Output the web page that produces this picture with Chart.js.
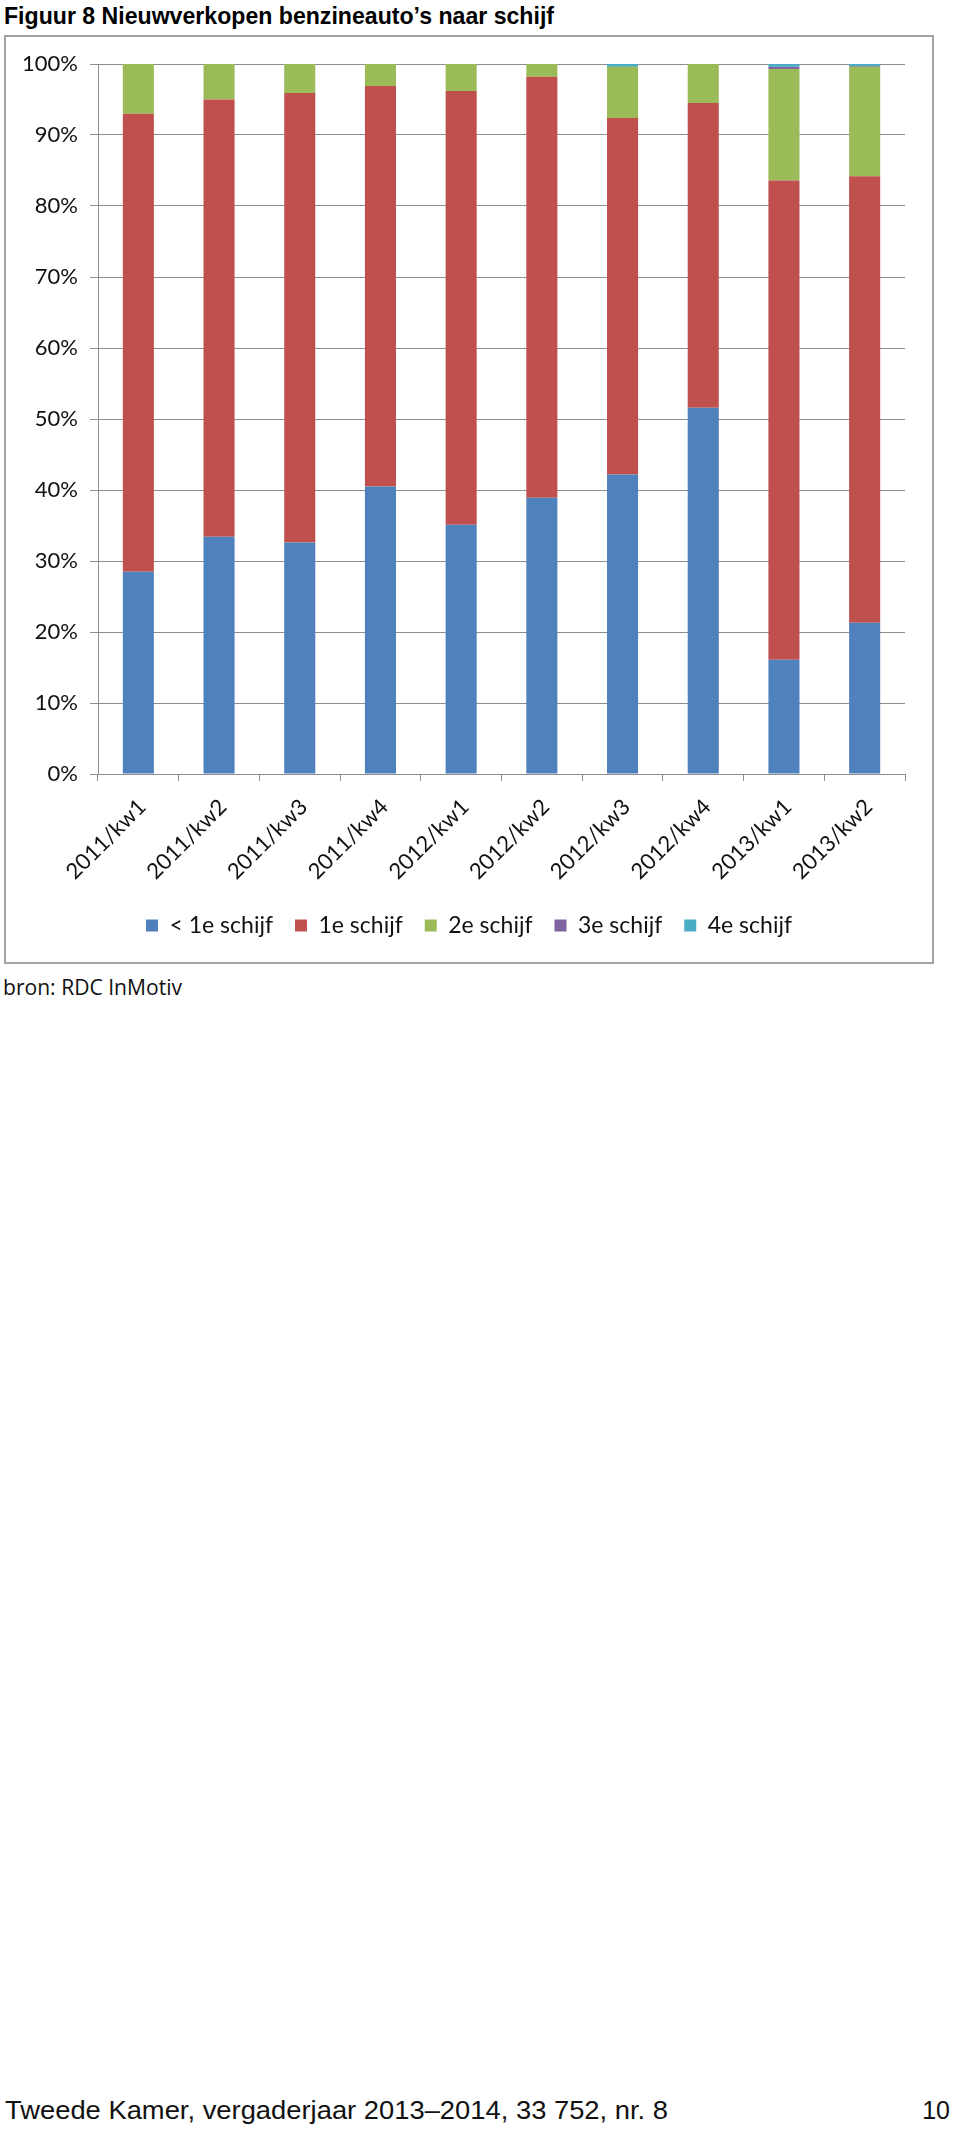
<!DOCTYPE html>
<html>
<head>
<meta charset="utf-8">
<script src="https://cdn.jsdelivr.net/npm/chart.js@4.4.1/dist/chart.umd.min.js"></script>
<style>
  html, body { margin: 0; padding: 0; background: #fff; }
  body { width: 960px; height: 2130px; position: relative; overflow: hidden; }
  #title {
    position: absolute; left: 4px; top: 2px;
    font-family: "Liberation Sans", Arial, sans-serif; font-weight: bold;
    font-size: 24px; color: #000; white-space: nowrap;
    transform-origin: 0 0;
  }
  #box {
    position: absolute; left: 4px; top: 35px; width: 930px; height: 929px;
    border: 2px solid #a3a3a3; box-sizing: border-box;
  }
  #box canvas { display: block; }
  #source {
    position: absolute; left: 3px; top: 973px;
    font-family: "Open Sans", "Liberation Sans", sans-serif; font-size: 21px; color: #111;
    white-space: nowrap; transform-origin: 0 0;
  }
  #footer {
    position: absolute; left: 5px; top: 2096px;
    font-family: "Liberation Sans", Arial, sans-serif; font-size: 25px; color: #111;
    white-space: nowrap; transform-origin: 0 0;
  }
  #page {
    position: absolute; right: 10px; top: 2096px;
    font-family: "Liberation Sans", Arial, sans-serif; font-size: 25px; color: #111;
  }
</style>
</head>
<body>
<div id="title">Figuur 8 Nieuwverkopen benzineauto’s naar schijf</div>
<div id="box"><canvas id="chartCanvas" width="926" height="925"></canvas></div>
<div id="source">bron: RDC InMotiv</div>
<div id="footer">Tweede Kamer, vergaderjaar 2013–2014, 33 752, nr. 8</div>
<div id="page">10</div>
<script>
// --- data (share of sales, %) ---
const quarters = ["2011/kw1", "2011/kw2", "2011/kw3", "2011/kw4", "2012/kw1",
                  "2012/kw2", "2012/kw3", "2012/kw4", "2013/kw1", "2013/kw2"];
const belowFirst = [28.5, 33.4, 32.6, 40.5, 35.1, 38.9, 42.2, 51.6, 16.1, 21.3];
const first      = [64.5, 61.6, 63.3, 56.4, 61.1, 59.3, 50.2, 42.9, 67.5, 62.9];
const second     = [7.0, 5.0, 4.1, 3.1, 3.8, 1.8, 7.2, 5.5, 15.7, 15.4];
const third      = [0, 0, 0, 0, 0, 0, 0, 0, 0.3, 0.1];
const fourth     = [0, 0, 0, 0, 0, 0, 0.4, 0, 0.4, 0.3];
const yTicks = [0, 10, 20, 30, 40, 50, 60, 70, 80, 90, 100];

const seriesNames = ["< 1e schijf", "1e schijf", "2e schijf", "3e schijf", "4e schijf"];
const seriesColors = ["#4f81bd", "#c0504d", "#9bbb59", "#8064a2", "#4bacc6"];

// squeeze html text to the width it has in the figure
function fitWidth(id, target) {
  const el = document.getElementById(id);
  const w = el.getBoundingClientRect().width;
  el.style.transform = `scaleX(${target / w})`;
}
fitWidth("title", 550);
fitWidth("footer", 663);
fitWidth("source", 179);

const canvas = document.getElementById("chartCanvas");
const gridColor = "#8e8e8e";

const datasets = [belowFirst, first, second, third, fourth].map((vals, i) => ({
  label: seriesNames[i],
  data: vals,
  backgroundColor: seriesColors[i],
  borderWidth: 0,
  barPercentage: 0.385,
  categoryPercentage: 1
}));

new Chart(canvas, {
  type: "bar",
  data: { labels: quarters, datasets },
  options: {
    responsive: false,
    animation: false,
    layout: { padding: { left: 0, right: 0, top: 27, bottom: 15 } },
    plugins: {
      tooltip: { enabled: false },
      legend: {
        position: "bottom",
        labels: {
          boxWidth: 12, boxHeight: 12, padding: 22,
          color: "#111",
          font: { family: "Lato", size: 23 }
        }
      }
    },
    scales: {
      x: {
        stacked: true,
        afterFit: s => { s.height = 118; },
        border: { color: gridColor, width: 1 },
        grid: { drawOnChartArea: false, drawTicks: true, tickLength: 7, color: gridColor, offset: true },
        ticks: {
          minRotation: 45, maxRotation: 45, padding: 13, labelOffset: 4,
          color: "#111", font: { family: "Lato", size: 22 }
        }
      },
      y: {
        stacked: true, min: 0, max: 100,
        afterFit: s => { s.width = 92; },
        afterBuildTicks: s => { s.ticks = yTicks.map(v => ({ value: v })); },
        border: { color: gridColor, width: 1 },
        grid: { color: gridColor, tickLength: 8 },
        ticks: {
          padding: 12, color: "#111",
          font: { family: "Lato", size: 22 },
          callback: v => v + "%"
        }
      },
      // empty strip on the right so the plot ends where the figure's does
      yRight: {
        position: "right", min: 0, max: 100,
        afterFit: s => { s.width = 27; },
        border: { display: false },
        grid: { display: false },
        ticks: { display: false }
      }
    }
  }
});
</script>
</body>
</html>
